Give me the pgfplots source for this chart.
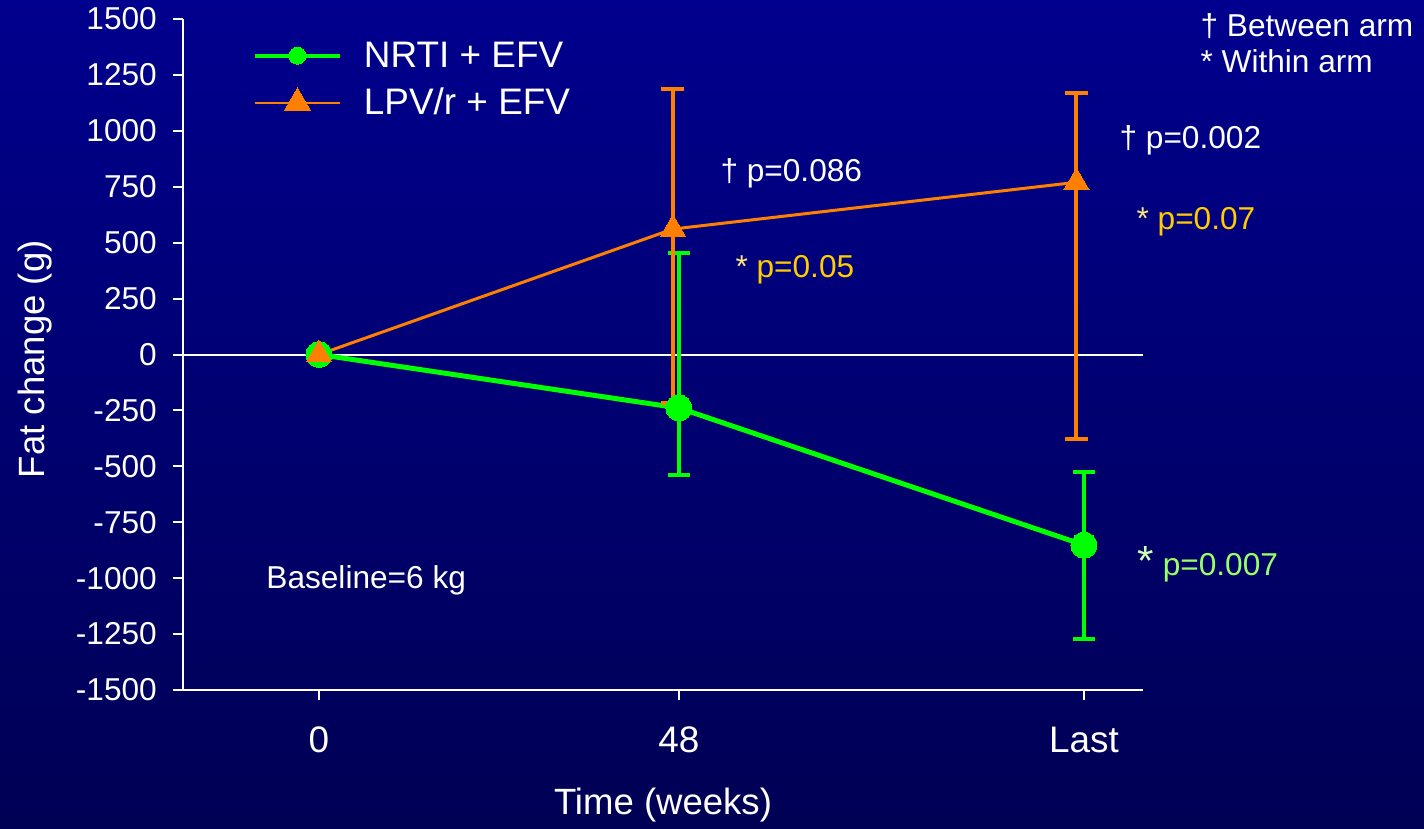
\documentclass[border=0pt]{standalone}
\usepackage{pgfplots}
\pgfplotsset{compat=1.18}
\usepackage{pgfplotstable}
\usepackage{fontspec}
\setmainfont{Liberation Sans}
\definecolor{bgtop}{RGB}{0,0,142}
\definecolor{bgbot}{RGB}{0,0,84}
\definecolor{lgreen}{RGB}{0,255,0}
\definecolor{lorange}{RGB}{255,128,0}
\definecolor{pyellow}{RGB}{255,204,0}
\definecolor{pgreen}{RGB}{153,255,102}

\pgfplotstableread{
x y ep em
0 0 0 0
48 -239 693 300
102 -852 327 421
}\nrti
\pgfplotstableread{
x y ep em
0 0 0 0
47.2 561 626 779
101 770 399 1148
}\lpv

\begin{document}
\begin{tikzpicture}
\shade[top color=bgtop,bottom color=bgbot] (0,0) rectangle (28.48,-16.56);
\begin{axis}[
  at={(3.66cm,-13.8cm)}, anchor=south west,
  scale only axis, width=19.2cm, height=13.42cm,
  xmin=-18.13, xmax=109.87, ymin=-1500, ymax=1500,
  axis x line=bottom, axis y line=left,
  axis line style={-, white, line width=0.04cm},
  xtick={0,48,102}, xticklabels={0,48,Last},
  ytick={-1500,-1250,-1000,-750,-500,-250,0,250,500,750,1000,1250,1500},
  yticklabels={-1500,-1250,-1000,-750,-500,-250,0,250,500,750,1000,1250,1500},
  tick align=outside, major tick length=0.2cm,
  tick style={white, line width=0.04cm},
  ticklabel style={text=white, font=\fontsize{18}{21}\selectfont},
  yticklabel style={xshift=-0.2cm},
  xticklabel style={yshift=-0.42cm, font=\fontsize{21}{24}\selectfont},
  xlabel={Time (weeks)}, ylabel={Fat change (g)},
  label style={text=white, font=\fontsize{20.8}{24}\selectfont},
  xlabel style={at={(axis description cs:0.5,-0.172)}, anchor=center},
  ylabel style={at={(axis description cs:-0.154,0.493)}, anchor=center},
  clip=false,
  legend style={at={(0.067,0.972)}, anchor=north west, draw=none, fill=none,
    text=white, font=\fontsize{21}{25}\selectfont,
    nodes={inner sep=0pt}, row sep=0.36cm,
    /tikz/every odd column/.append style={column sep=0.44cm}},
  legend cell align=left,
  legend image code/.code={\draw[mark repeat=2,mark phase=2] plot coordinates {(0cm,0cm) (0.85cm,0cm) (1.7cm,0cm)};},
]
\draw[white, line width=0.04cm] (axis cs:-18.13,0) -- (axis cs:109.87,0);
\addplot[lgreen, line width=0.1cm, mark=*, mark size=0.26cm,
  mark options={solid, fill=lgreen, draw=lgreen, line width=0pt},
  legend image post style={line width=0.08cm, mark size=0.17cm},
  error bars/.cd, y dir=both, y explicit,
  error bar style={line width=0.07cm, lgreen},
  error mark options={rotate=90, mark size=0.22cm, line width=0.07cm, lgreen}]
  table[x=x,y=y,y error plus=ep,y error minus=em]{\nrti};
\addlegendentry{NRTI + EFV}
\addplot[lorange, line width=0.06cm, mark=triangle*, mark size=0.29cm,
  mark options={solid, fill=lorange, draw=lorange, line width=0pt},
  legend image post style={line width=0.04cm, mark size=0.3cm},
  error bars/.cd, y dir=both, y explicit,
  error bar style={line width=0.08cm, lorange},
  error mark options={rotate=90, mark size=0.23cm, line width=0.08cm, lorange}]
  table[x=x,y=y,y error plus=ep,y error minus=em]{\lpv};
\addlegendentry{LPV/r + EFV}
\end{axis}
\begin{scope}[x=0.02cm,y=-0.02cm, every node/.style={inner sep=0pt, anchor=base west}]
\node[text=white, font=\fontsize{18}{20}\selectfont] at (720,181) {† p=0.086};
\node[text=pyellow, font=\fontsize{18}{20}\selectfont] at (735,277) {\textcolor{pyellow!50!white}{*} p=0.05};
\node[text=white, font=\fontsize{18}{20}\selectfont] at (1119,148) {† p=0.002};
\node[text=pyellow, font=\fontsize{18}{20}\selectfont] at (1136,229) {\textcolor{pyellow!50!white}{*} p=0.07};
\node[text=pgreen, font=\fontsize{18}{20}\selectfont] at (1137,575) {{\fontsize{24}{24}\selectfont\textcolor{pgreen!50!white}{*}} p=0.007};
\node[text=white, font=\fontsize{18}{20}\selectfont] at (266,588) {Baseline=6 kg};
\node[text=white, font=\fontsize{18}{20}\selectfont] at (1200,36) {† Between arm};
\node[text=white, font=\fontsize{18}{20}\selectfont] at (1200,72) {* Within arm};
\end{scope}
\pgfresetboundingbox
\path (0,0) rectangle (28.48,-16.56);
\end{tikzpicture}
\end{document}
